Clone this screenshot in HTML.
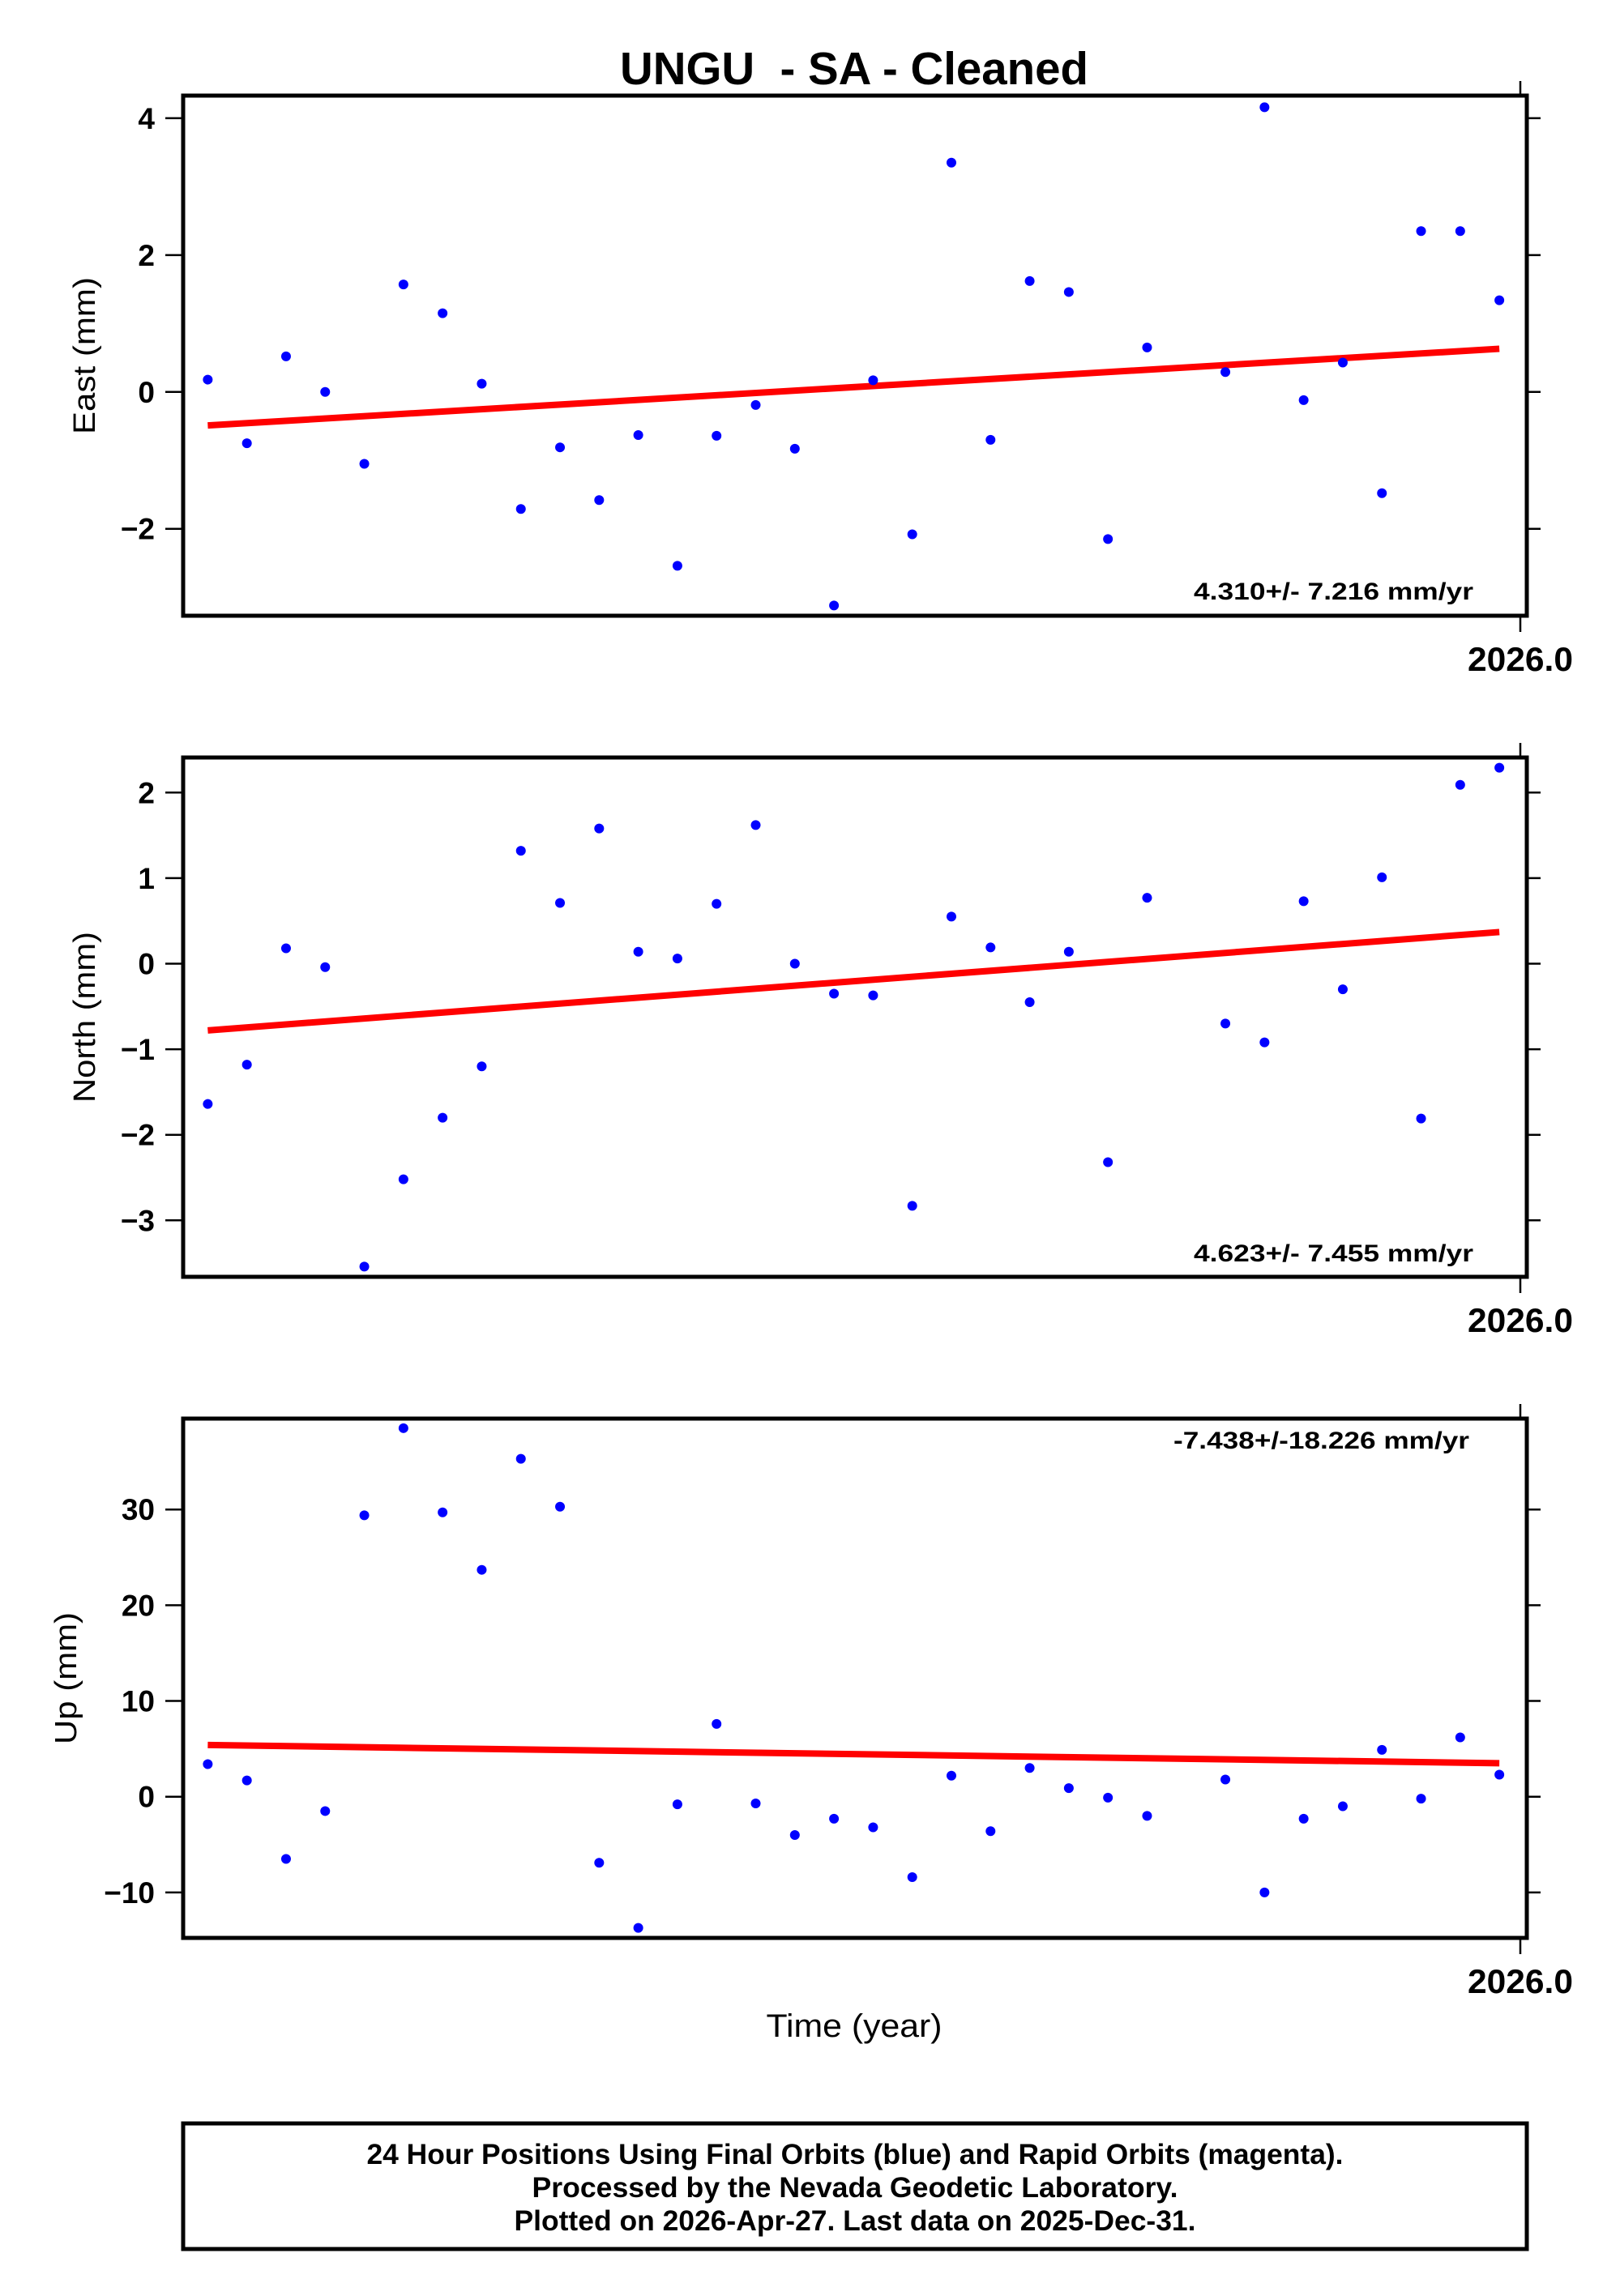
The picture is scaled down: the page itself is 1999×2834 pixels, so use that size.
<!DOCTYPE html>
<html><head><meta charset="utf-8"><style>
html,body{margin:0;padding:0;background:#fff;}
svg{display:block;}
text{font-family:"Liberation Sans",Arial,sans-serif;fill:#000;}
</style></head><body>
<svg id="chart" width="1999" height="2834" viewBox="0 0 1999 2834" xmlns="http://www.w3.org/2000/svg">
<rect x="0" y="0" width="1999" height="2834" fill="#fff"/>
<text x="1054" y="104" text-anchor="middle" font-size="57" font-weight="bold" textLength="578" lengthAdjust="spacingAndGlyphs">UNGU&#160; - SA - Cleaned</text>
<text x="1054" y="2514" text-anchor="middle" font-size="40" textLength="217" lengthAdjust="spacingAndGlyphs">Time (year)</text>
<rect x="226" y="2621" width="1658" height="155" fill="none" stroke="#000" stroke-width="5"/>
<text x="1055" y="2671" text-anchor="middle" font-size="35" font-weight="bold" textLength="1205" lengthAdjust="spacingAndGlyphs">24 Hour Positions Using Final Orbits (blue) and Rapid Orbits (magenta).</text>
<text x="1055" y="2712" text-anchor="middle" font-size="35" font-weight="bold" textLength="797" lengthAdjust="spacingAndGlyphs">Processed by the Nevada Geodetic Laboratory.</text>
<text x="1055" y="2753" text-anchor="middle" font-size="35" font-weight="bold" textLength="841" lengthAdjust="spacingAndGlyphs">Plotted on 2026-Apr-27. Last data on 2025-Dec-31.</text>
</svg>
<script>
// Day-of-year 2025 for each observation
const days = [130.5,137.5,144.5,151.5,158.5,165.5,172.5,179.5,186.5,193.5,200.5,207.5,214.5,221.5,228.5,235.5,242.5,249.5,256.5,263.5,270.5,277.5,284.5,291.5,298.5,312.5,319.5,326.5,333.5,340.5,347.5,354.5,361.5];
const eastValues = [0.18,-0.75,0.52,0.0,-1.05,1.57,1.15,0.12,-1.71,-0.81,-1.58,-0.63,-2.54,-0.64,-0.19,-0.83,-3.12,0.17,-2.08,3.35,-0.70,1.62,1.46,-2.15,0.65,0.29,4.16,-0.12,0.43,-1.48,2.35,2.35,1.34];
const northValues = [-1.64,-1.18,0.18,-0.04,-3.54,-2.52,-1.80,-1.20,1.32,0.71,1.58,0.14,0.06,0.70,1.62,0.00,-0.35,-0.37,-2.83,0.55,0.19,-0.45,0.14,-2.32,0.77,-0.70,-0.92,0.73,-0.30,1.01,-1.81,2.09,2.29];
const upValues = [3.4,1.7,-6.5,-1.5,29.4,38.5,29.7,23.7,35.3,30.3,-6.9,-13.7,-0.8,7.6,-0.7,-4.0,-2.3,-3.2,-8.4,2.2,-3.6,3.0,0.9,-0.1,-2.0,1.8,-10.0,-2.3,-1.0,4.9,-0.2,6.2,2.3];
const eastTrend = [-0.49,0.63];
const northTrend = [-0.78,0.37];
const upTrend = [5.4,3.5];
const eastTicks = [4,2,0,-2];
const northTicks = [2,1,0,-1,-2,-3];
const upTicks = [30,20,10,0,-10];
const eastTickLabels = ["4","2","0","\u22122"];
const northTickLabels = ["2","1","0","\u22121","\u22122","\u22123"];
const upTickLabels = ["30","20","10","0","\u221210"];
const rateLabels = ["4.310+/- 7.216 mm/yr","4.623+/- 7.455 mm/yr","-7.438+/-18.226 mm/yr"];
const xTickYears = [2026.0];
const xTickLabels = ["2026.0"];

const NS = "http://www.w3.org/2000/svg";
const svg = document.getElementById('chart');
const L = 226, R = 1884;
function xScale(t){ return 1876 + (t - 2026.0) * 2520; }
function tOf(d){ return 2025 + d / 365.25; }
function mk(tag, attrs, parent){
  const e = document.createElementNS(NS, tag);
  for (const k in attrs) e.setAttribute(k, attrs[k]);
  (parent || svg).appendChild(e);
  return e;
}
const panels = [
  {key:'east', top:118, bot:760, vmax:4.33, vmin:-3.27, vals:eastValues, trend:eastTrend, ticks:eastTicks, labels:eastTickLabels, title:'East (mm)', titleX:117, titleLen:194, rate:rateLabels[0], rateY:740, rateX:1818},
  {key:'north', top:935, bot:1576, vmax:2.41, vmin:-3.66, vals:northValues, trend:northTrend, ticks:northTicks, labels:northTickLabels, title:'North (mm)', titleX:117, titleLen:211, rate:rateLabels[1], rateY:1557, rateX:1818},
  {key:'up', top:1751, bot:2392, vmax:39.5, vmin:-14.75, vals:upValues, trend:upTrend, ticks:upTicks, labels:upTickLabels, title:'Up (mm)', titleX:94, titleLen:163, rate:rateLabels[2], rateY:1788, rateX:1813}
];
panels.forEach(function(p){
  const g = mk('g', {});
  
  
  const y = function(v){ return p.top + (p.vmax - v) / (p.vmax - p.vmin) * (p.bot - p.top); };
  p.ticks.forEach(function(v, i){
    const yy = y(v);
    const tl = mk('line', {x1:L-22, x2:L, y1:yy, y2:yy, stroke:'#000', 'stroke-width':2.5}, g);
    
    
    const tr = mk('line', {x1:R, x2:R+17, y1:yy, y2:yy, stroke:'#000', 'stroke-width':2.5}, g);
    
    
    const t = mk('text', {x:191, y:yy+13, 'text-anchor':'end', 'font-size':37, 'font-weight':'bold'}, g);
    t.textContent = p.labels[i];
    
    
  });
  xTickYears.forEach(function(yr, i){
    const xx = xScale(yr);
    const a = mk('line', {x1:xx, x2:xx, y1:p.top-18, y2:p.top, stroke:'#000', 'stroke-width':2.5}, g);
    
    
    const b = mk('line', {x1:xx, x2:xx, y1:p.bot, y2:p.bot+20, stroke:'#000', 'stroke-width':2.5}, g);
    
    
    const t = mk('text', {x:xx, y:p.bot+68, 'text-anchor':'middle', 'font-size':42, 'font-weight':'bold', textLength:130, lengthAdjust:'spacingAndGlyphs'}, g);
    t.textContent = xTickLabels[i];
    
    
  });
  const cy = (p.top + p.bot) / 2;
  const yt = mk('text', {x:p.titleX, y:cy, 'text-anchor':'middle', 'font-size':38, transform:'rotate(-90 ' + p.titleX + ' ' + cy + ')', textLength:p.titleLen, lengthAdjust:'spacingAndGlyphs'}, g);
  yt.textContent = p.title;
  
  
  const t0 = tOf(days[0]), t1 = tOf(days[days.length-1]);
  const tr = mk('line', {x1:xScale(t0), y1:y(p.trend[0]), x2:xScale(t1), y2:y(p.trend[1]), stroke:'#ff0000', 'stroke-width':8}, g);
  
  
  p.vals.forEach(function(v, i){
    const c = mk('ellipse', {cx:xScale(tOf(days[i])), cy:y(v), rx:6, ry:6, fill:'#0000ff'}, g);
    
    
  });
  const rt = mk('text', {x:p.rateX, y:p.rateY, 'text-anchor':'end', 'font-size':30, 'font-weight':'bold', textLength:(p.key==='up'?365:345), lengthAdjust:'spacingAndGlyphs'}, g);
  rt.textContent = p.rate;
  
  
  const fr = mk('rect', {x:L, y:p.top, width:R-L, height:p.bot-p.top, fill:'none', stroke:'#000', 'stroke-width':5}, g);
  
  
});
</script>
</body></html>
